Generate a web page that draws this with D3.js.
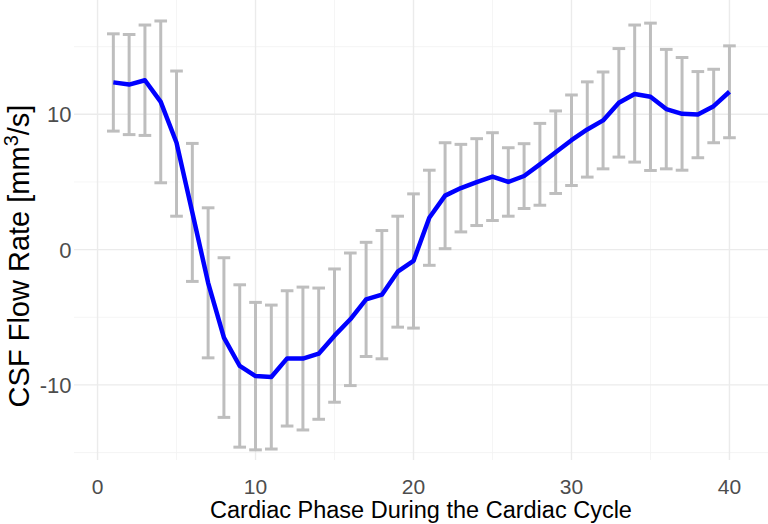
<!DOCTYPE html>
<html>
<head>
<meta charset="utf-8">
<script src="https://cdn.jsdelivr.net/npm/d3@7"></script>
<style>
  html, body { margin: 0; padding: 0; background: #fff; }
  svg { display: block; font-family: "Liberation Sans", Arial, sans-serif; }
</style>
</head>
<body>
<script>
// cardiac phase index
const phase = [1, 2, 3, 4, 5, 6, 7, 8, 9, 10, 11, 12, 13, 14, 15, 16, 17, 18, 19, 20,
  21, 22, 23, 24, 25, 26, 27, 28, 29, 30, 31, 32, 33, 34, 35, 36, 37, 38, 39, 40];
// mean CSF flow rate [mm3/s]
const flowMean = [12.36, 12.2, 12.52, 10.92, 7.9, 2.75, -2.45, -6.5, -8.6, -9.35,
  -9.42, -8.04, -8.05, -7.69, -6.36, -5.15, -3.68, -3.33, -1.63, -0.84,
  2.36, 3.99, 4.55, 4.99, 5.4, 5.0, 5.44, 6.3, 7.2, 8.09,
  8.88, 9.55, 10.85, 11.5, 11.3, 10.39, 10.04, 9.98, 10.6, 11.67];
const flowLower = [8.76, 8.5, 8.44, 4.94, 2.47, -2.35, -8.0, -12.4, -14.6, -14.8,
  -14.74, -13.04, -13.33, -12.54, -11.28, -10.05, -7.9, -8.07, -5.73, -5.8,
  -1.16, 0.07, 1.31, 1.78, 2.15, 2.47, 3.04, 3.28, 4.15, 4.74,
  5.36, 5.97, 6.84, 6.47, 5.85, 5.97, 5.87, 6.79, 7.9, 8.27];
const flowUpper = [15.95, 15.9, 16.6, 16.9, 13.2, 7.85, 3.09, -0.6, -2.6, -3.9,
  -4.1, -3.04, -2.77, -2.84, -1.43, -0.25, 0.54, 1.41, 2.47, 4.12,
  5.87, 7.9, 7.78, 8.2, 8.64, 7.53, 7.83, 9.33, 10.25, 11.43,
  12.4, 13.13, 14.86, 16.6, 16.74, 14.8, 14.2, 13.16, 13.33, 15.06];

const xTicks = [0, 10, 20, 30, 40];
const xMinor = [5, 15, 25, 35];
const yTicks = [-10, 0, 10];
const yMinor = [-15, -5, 5, 15];

const width = 768;
const height = 524;
const panel = { left: 74, right: 768, top: 0, bottom: 460 };

const data = phase.map((p, i) => ({ p: p, m: flowMean[i], lo: flowLower[i], hi: flowUpper[i] }));

const x = d3.scaleLinear().domain([-1.49, 42.44]).range([panel.left, panel.right]);
const y = d3.scaleLinear().domain([-15.55, 18.45]).range([panel.bottom, panel.top]);

const svg = d3.select('body').append('svg')
  .attr('width', width)
  .attr('height', height);

// grid
const grid = svg.append('g');
grid.selectAll('.xminor').data(xMinor).enter().append('line')
  .attr('x1', d => x(d)).attr('x2', d => x(d))
  .attr('y1', panel.top).attr('y2', panel.bottom)
  .attr('stroke', '#f2f2f2').attr('stroke-width', 0.8);
grid.selectAll('.yminor').data(yMinor).enter().append('line')
  .attr('x1', panel.left).attr('x2', panel.right)
  .attr('y1', d => y(d)).attr('y2', d => y(d))
  .attr('stroke', '#f2f2f2').attr('stroke-width', 0.8);
grid.selectAll('.xmajor').data(xTicks).enter().append('line')
  .attr('x1', d => x(d)).attr('x2', d => x(d))
  .attr('y1', panel.top).attr('y2', panel.bottom)
  .attr('stroke', '#ebebeb').attr('stroke-width', 1.4);
grid.selectAll('.ymajor').data(yTicks).enter().append('line')
  .attr('x1', panel.left).attr('x2', panel.right)
  .attr('y1', d => y(d)).attr('y2', d => y(d))
  .attr('stroke', '#ebebeb').attr('stroke-width', 1.4);

// error bars
const bars = svg.append('g')
  .attr('stroke', '#bebebe')
  .attr('stroke-width', 3)
  .attr('fill', 'none');
const eb = bars.selectAll('g').data(data).enter().append('g');
eb.append('line')
  .attr('x1', d => x(d.p)).attr('x2', d => x(d.p))
  .attr('y1', d => y(d.lo)).attr('y2', d => y(d.hi));
eb.append('line')
  .attr('x1', d => x(d.p - 0.4)).attr('x2', d => x(d.p + 0.4))
  .attr('y1', d => y(d.lo)).attr('y2', d => y(d.lo));
eb.append('line')
  .attr('x1', d => x(d.p - 0.4)).attr('x2', d => x(d.p + 0.4))
  .attr('y1', d => y(d.hi)).attr('y2', d => y(d.hi));

// mean line
const line = d3.line()
  .x(d => x(d.p))
  .y(d => y(d.m));
svg.append('path')
  .datum(data)
  .attr('d', line)
  .attr('fill', 'none')
  .attr('stroke', '#0000ff')
  .attr('stroke-width', 4.5)
  .attr('stroke-linejoin', 'round')
  .attr('stroke-linecap', 'butt');

// tick labels
svg.append('g').selectAll('text').data(xTicks).enter().append('text')
  .attr('x', d => x(d))
  .attr('y', 494)
  .attr('text-anchor', 'middle')
  .attr('font-size', 21)
  .attr('fill', '#4d4d4d')
  .text(d => d);
svg.append('g').selectAll('text').data(yTicks).enter().append('text')
  .attr('x', 71.5)
  .attr('y', d => y(d))
  .attr('dy', '0.36em')
  .attr('text-anchor', 'end')
  .attr('font-size', 22)
  .attr('fill', '#4d4d4d')
  .text(d => d);

// axis titles
svg.append('text')
  .attr('x', (panel.left + panel.right) / 2)
  .attr('y', 518)
  .attr('text-anchor', 'middle')
  .attr('font-size', 23.5)
  .attr('fill', '#000')
  .text('Cardiac Phase During the Cardiac Cycle');

const yt = svg.append('text')
  .attr('transform', 'translate(29, 256) rotate(-90)')
  .attr('text-anchor', 'middle')
  .attr('font-size', 29)
  .attr('fill', '#000');
yt.append('tspan').text('CSF Flow Rate [mm');
yt.append('tspan').attr('dy', -11).attr('font-size', 20).text('3');
yt.append('tspan').attr('dy', 11).text('/s]');
</script>
</body>
</html>
